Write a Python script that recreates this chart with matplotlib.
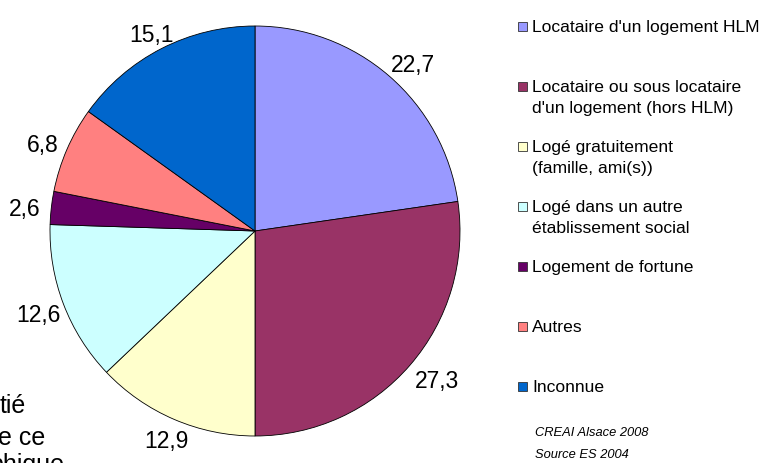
import numpy as np
import matplotlib
matplotlib.use("Agg")
import matplotlib.pyplot as plt
from matplotlib.patches import Rectangle

plt.rcParams["font.family"] = ["Liberation Sans", "DejaVu Sans"]

# data
categories = [
    "Locataire d'un logement HLM",
    "Locataire ou sous locataire\nd'un logement (hors HLM)",
    "Logé gratuitement\n(famille, ami(s))",
    "Logé dans un autre\nétablissement social",
    "Logement de fortune",
    "Autres",
    "Inconnue",
]
values = [22.7, 27.3, 12.9, 12.6, 2.6, 6.8, 15.1]
colors = ["#9999FF", "#993366", "#FFFFCC", "#CCFFFF", "#660066", "#FF8080", "#0066CC"]
source_lines = ["CREAI Alsace 2008", "Source ES 2004"]
hidden_text = ["tié", "e ce", "phique"]

W, H = 768, 463
fig = plt.figure(figsize=(W / 100, H / 100), dpi=100)

# pie centred at (255, 231) px, radius 205 px
cx, cy, r = 255, 231, 205
ax = fig.add_axes([(cx - r) / W, (H - cy - r) / H, 2 * r / W, 2 * r / H])
wedges, _ = ax.pie(values, colors=colors, startangle=90, counterclock=False,
                   radius=1.0,
                   wedgeprops=dict(edgecolor="black", linewidth=0.6))
ax.set_xlim(-1, 1)
ax.set_ylim(-1, 1)
ax.set_aspect("equal")
ax.axis("off")

# value labels, Excel style: box pushed outward from an anchor ring
for w, v in zip(wedges, values):
    th = np.deg2rad((w.theta1 + w.theta2) / 2)
    c, s = np.cos(th), np.sin(th)
    x = 1.05 * c + 0.10 * c + 0.02
    y = 1.05 * s + 0.045 * s - 0.02
    ax.text(x, y, ("%.1f" % v).replace(".", ","), ha="center", va="center",
            fontsize=16.5, clip_on=False)

# legend, drawn by hand, one text per line
for i, (lab, col) in enumerate(zip(categories, colors)):
    yc = 26 + 60 * i
    fig.add_artist(Rectangle((518 / W, 1 - (yc + 4.5) / H), 9 / W, 9 / H,
                             transform=fig.transFigure, facecolor=col,
                             edgecolor="#333333", linewidth=0.6))
    for k, line in enumerate(lab.split("\n")):
        fig.text(532 / W, 1 - (yc + 6 + 21 * k) / H, line, ha="left",
                 va="baseline", fontsize=12.6)

for j, line in enumerate(source_lines):
    fig.text(535 / W, 1 - (433 + 22 * j) / H, line, ha="left", va="center",
             fontsize=9.3, style="italic")

# fragments of text sitting under the chart (cut by the page edge)
frag_x = [0, 45, 64]
frag_ha = ["left", "right", "right"]
frag_base = [413, 445, 472]
for frag, xr, ha, yb in zip(hidden_text, frag_x, frag_ha, frag_base):
    fig.text(xr / W, 1 - yb / H, frag, ha=ha, va="baseline", fontsize=18)

fig.savefig("out.png", dpi=100, facecolor="white")
